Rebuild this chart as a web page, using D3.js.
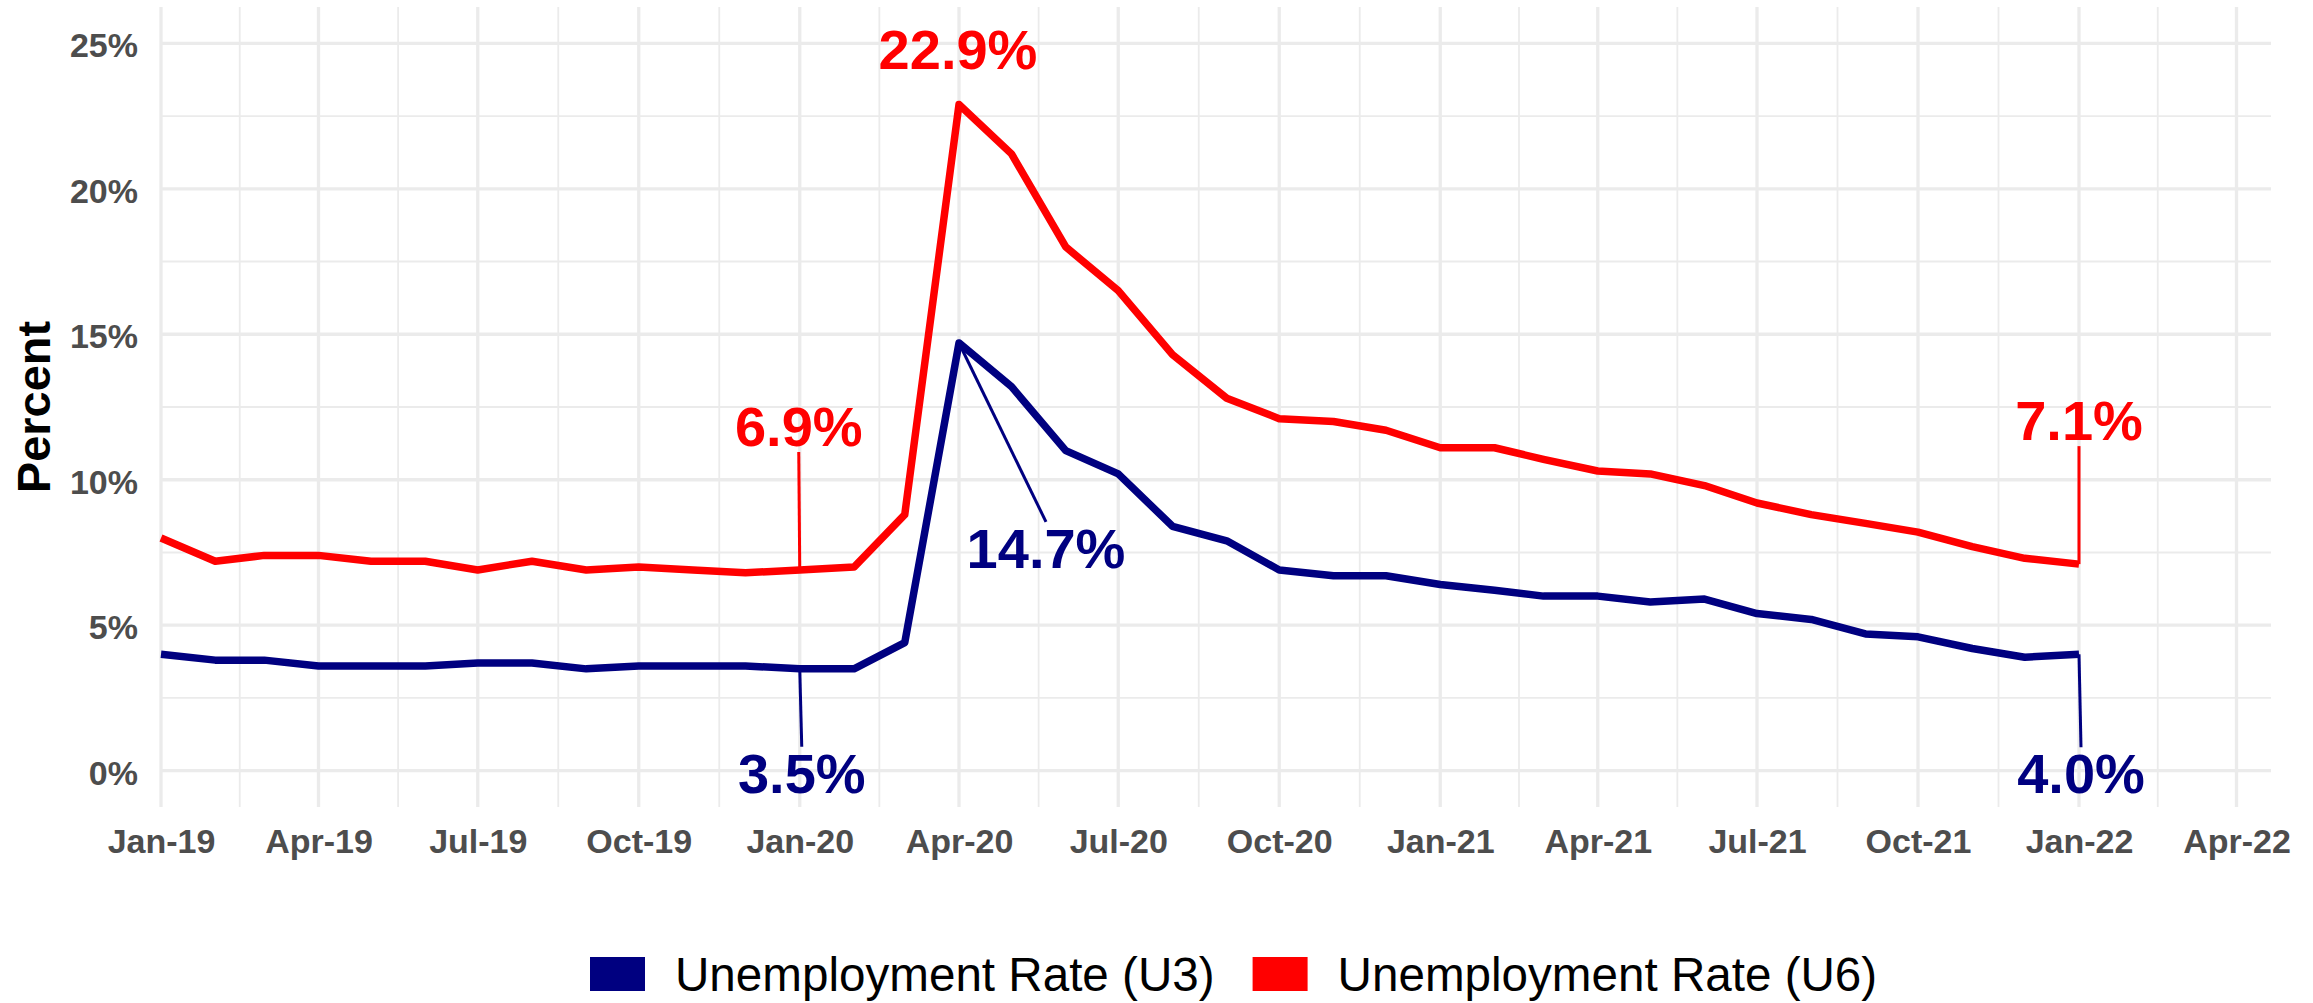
<!DOCTYPE html>
<html><head><meta charset="utf-8">
<script src="https://cdn.jsdelivr.net/npm/d3@7"></script>
<style>
body{margin:0;background:#fff;}
svg{display:block;}
text{font-family:"Liberation Sans",Arial,Helvetica,sans-serif;}
</style>
</head><body>
<svg id="chart" width="2313" height="1003"></svg>
<script>
// ---------------- DATA ----------------
const months = ["2019-01","2019-02","2019-03","2019-04","2019-05","2019-06","2019-07","2019-08","2019-09","2019-10","2019-11","2019-12",
                "2020-01","2020-02","2020-03","2020-04","2020-05","2020-06","2020-07","2020-08","2020-09","2020-10","2020-11","2020-12",
                "2021-01","2021-02","2021-03","2021-04","2021-05","2021-06","2021-07","2021-08","2021-09","2021-10","2021-11","2021-12",
                "2022-01"];
const u3 = [4.0,3.8,3.8,3.6,3.6,3.6,3.7,3.7,3.5,3.6,3.6,3.6,
            3.5,3.5,4.4,14.7,13.2,11.0,10.2,8.4,7.9,6.9,6.7,6.7,
            6.4,6.2,6.0,6.0,5.8,5.9,5.4,5.2,4.7,4.6,4.2,3.9,
            4.0];
const u6 = [8.0,7.2,7.4,7.4,7.2,7.2,6.9,7.2,6.9,7.0,6.9,6.8,
            6.9,7.0,8.8,22.9,21.2,18.0,16.5,14.3,12.8,12.1,12.0,11.7,
            11.1,11.1,10.7,10.3,10.2,9.8,9.2,8.8,8.5,8.2,7.7,7.3,
            7.1];
const seriesNames = ["Unemployment Rate (U3)", "Unemployment Rate (U6)"];
const xTickDates = ["2019-01","2019-04","2019-07","2019-10","2020-01","2020-04","2020-07","2020-10","2021-01","2021-04","2021-07","2021-10","2022-01","2022-04"];
const xTickLabels = ["Jan-19","Apr-19","Jul-19","Oct-19","Jan-20","Apr-20","Jul-20","Oct-20","Jan-21","Apr-21","Jul-21","Oct-21","Jan-22","Apr-22"];
const yTicks = [0,5,10,15,20,25];
const yMinorTicks = [2.5,7.5,12.5,17.5,22.5];
const annotated = [ // series index, month
  {s:1, m:"2020-04"}, {s:1, m:"2020-01"}, {s:1, m:"2022-01"},
  {s:0, m:"2020-04"}, {s:0, m:"2020-01"}, {s:0, m:"2022-01"}
];

// ---------------- LAYOUT / STYLE ----------------
const W = 2313, H = 1003;
const panel = {left:161, right:2271, top:7, bottom:807};
const colors = ["#000080", "#FF0000"];
const gridColor = "#EBEBEB";
const tickColor = "#4D4D4D";
// label offsets (px) relative to the annotated point; seg = draw connector
const labelLayout = {
  "1|2020-04": {dx:-1, dy:-35, seg:false},
  "1|2020-01": {dx:-1, dy:-124, seg:true},
  "1|2022-01": {dx:0,  dy:-124, seg:true},
  "0|2020-04": {dx:87, dy:225, seg:true},
  "0|2020-01": {dx:2,  dy:124, seg:true},
  "0|2022-01": {dx:2,  dy:139, seg:true}
};
const labelFont = 56;

const parse = d3.utcParse("%Y-%m");
const svg = d3.select("#chart");

const x = d3.scaleUtc()
  .domain([parse("2019-01"), parse("2022-04")])
  .range([161, 2236.5]);
const y = d3.scaleLinear().domain([0, 25]).range([770.7, 43.3]);

// ---------------- GRID ----------------
const g = svg.append("g");
const majorX = xTickDates.map(parse);
const minorX = [];
for (let i = 0; i < majorX.length - 1; i++) {
  const xm = (x(majorX[i]) + x(majorX[i+1])) / 2;
  if (xm <= panel.right) minorX.push(xm);
}
g.selectAll(".ygmin").data(yMinorTicks).join("line")
  .attr("x1", panel.left).attr("x2", panel.right)
  .attr("y1", d => y(d)).attr("y2", d => y(d))
  .attr("stroke", gridColor).attr("stroke-width", 1.8);
g.selectAll(".xgmin").data(minorX).join("line")
  .attr("x1", d => d).attr("x2", d => d)
  .attr("y1", panel.top).attr("y2", panel.bottom)
  .attr("stroke", gridColor).attr("stroke-width", 1.8);
g.selectAll(".ygmaj").data(yTicks).join("line")
  .attr("x1", panel.left).attr("x2", panel.right)
  .attr("y1", d => y(d)).attr("y2", d => y(d))
  .attr("stroke", gridColor).attr("stroke-width", 3.3);
g.selectAll(".xgmaj").data(majorX).join("line")
  .attr("x1", d => x(d)).attr("x2", d => x(d))
  .attr("y1", panel.top).attr("y2", panel.bottom)
  .attr("stroke", gridColor).attr("stroke-width", 3.3);

// ---------------- AXES ----------------
const yAxis = svg.append("g").attr("transform", `translate(${panel.left},0)`)
  .call(d3.axisLeft(y).tickValues(yTicks).tickFormat(d => d + "%").tickSize(0).tickPadding(23));
yAxis.select(".domain").remove();
yAxis.selectAll("text").attr("dy", "0.40em")
  .attr("font-size", 34).attr("font-weight", "bold").attr("fill", tickColor)
  .attr("font-family", "Liberation Sans, Arial, sans-serif");

const xAxis = svg.append("g").attr("transform", `translate(0,${panel.bottom})`)
  .call(d3.axisBottom(x).tickValues(majorX).tickFormat((d, i) => xTickLabels[i]).tickSize(0));
xAxis.select(".domain").remove();
xAxis.selectAll("text").attr("y", 46).attr("dy", 0)
  .attr("font-size", 34).attr("font-weight", "bold").attr("fill", tickColor)
  .attr("font-family", "Liberation Sans, Arial, sans-serif");

svg.append("text")
  .attr("transform", `translate(50,${(panel.top + panel.bottom) / 2}) rotate(-90)`)
  .attr("text-anchor", "middle")
  .attr("font-size", 47).attr("font-weight", "bold").attr("fill", "#000")
  .text("Percent");

// ---------------- LINES ----------------
const series = [u3, u6];
const line = d3.line().x((d, i) => x(parse(months[i]))).y(d => y(d));
series.forEach((vals, s) => {
  svg.append("path").datum(vals)
    .attr("d", line)
    .attr("fill", "none")
    .attr("stroke", colors[s])
    .attr("stroke-width", 7.5)
    .attr("stroke-linejoin", "round")
    .attr("stroke-linecap", "butt");
});

// ---------------- ANNOTATIONS ----------------
annotated.forEach(a => {
  const i = months.indexOf(a.m);
  const v = series[a.s][i];
  const px = x(parse(a.m)), py = y(v);
  const L = labelLayout[a.s + "|" + a.m];
  const tx = px + L.dx, ty = py + L.dy;
  if (L.seg) {
    let ey;
    if (L.dy < 0) ey = ty + 6;
    else ey = ty - 0.716 * labelFont - 6;
    svg.append("line")
      .attr("x1", px).attr("y1", py).attr("x2", tx).attr("y2", ey)
      .attr("stroke", colors[a.s]).attr("stroke-width", 3);
  }
  svg.append("text")
    .attr("x", tx).attr("y", ty)
    .attr("text-anchor", "middle")
    .attr("font-size", labelFont).attr("font-weight", "bold")
    .attr("fill", colors[a.s])
    .text(v.toFixed(1) + "%");
});

// ---------------- LEGEND ----------------
const leg = svg.append("g");
let lx = 590;
const keyW = 55, keyH = 34, keyTop = 957;
seriesNames.forEach((name, s) => {
  leg.append("rect").attr("x", lx).attr("y", keyTop).attr("width", keyW).attr("height", keyH)
    .attr("fill", colors[s]);
  const t = leg.append("text").attr("x", lx + keyW + 30).attr("y", 990.5)
    .attr("font-size", 47.6).attr("fill", "#000").text(name);
  lx = lx + keyW + 30 + t.node().getComputedTextLength() + 38;
});
</script>
</body></html>
